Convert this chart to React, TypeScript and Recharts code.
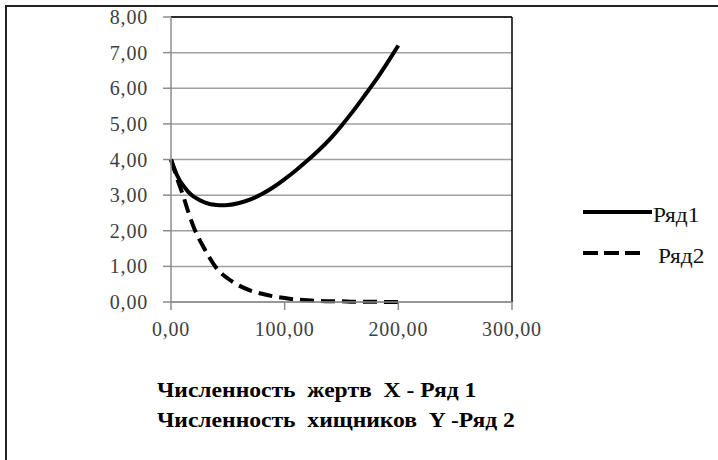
import React from 'react';
import { LineChart, Line, XAxis, YAxis, CartesianGrid, ReferenceLine } from 'recharts';

// time points
const tValues = [0, 5, 10, 15, 20, 30, 40, 50, 60, 70, 80, 90, 100, 110, 120, 130, 140, 150, 160, 170, 180, 190, 200];
// Ряд1 - численность жертв X
const prey = [4.0, 3.58, 3.3, 3.1, 2.96, 2.79, 2.72, 2.72, 2.78, 2.88, 3.03, 3.22, 3.45, 3.7, 3.97, 4.26, 4.58, 4.95, 5.35, 5.78, 6.22, 6.7, 7.2];
// Ряд2 - численность хищников Y
const predators = [4.0, 3.5, 3.05, 2.55, 2.1, 1.46, 0.95, 0.66, 0.46, 0.32, 0.23, 0.16, 0.11, 0.07, 0.05, 0.03, 0.02, 0.02, 0.01, 0.01, 0.01, 0.0, 0.0];

const xTicks = [0, 100, 200, 300];
const yTicks = [0, 1, 2, 3, 4, 5, 6, 7, 8];
const seriesNames = ['Ряд1', 'Ряд2'];
const captions = ['Численность  жертв  X - Ряд 1', 'Численность  хищников  Y -Ряд 2'];

const data = tValues.map((t, i) => ({ t, r1: prey[i], r2: predators[i] }));

const fmt = (v: number) => v.toFixed(2).replace('.', ',');
const font = '"Liberation Serif", "DejaVu Serif", serif';

export default function App() {
  return (
    <div style={{ position: 'fixed', left: 0, top: 0, width: 718, height: 460, background: '#fff', overflow: 'hidden', fontFamily: font }}>
      <div style={{ position: 'absolute', left: 5, top: 5, width: 740, height: 480, border: '2px solid #222', boxSizing: 'border-box' }} />
      <div style={{ position: 'absolute', left: 0, top: 0 }}>
        <LineChart width={718} height={460} data={data} margin={{ top: 17, right: 206, bottom: 128, left: 0 }}>
          <CartesianGrid vertical={false} stroke="#a0a0a0" strokeWidth={1.5} />
          <XAxis dataKey="t" type="number" domain={[0, 300]} ticks={xTicks} tickFormatter={fmt} interval={0}
            stroke="#8c8c8c" strokeWidth={1.5} tickSize={8} tickMargin={12} height={30}
            tick={{ fill: '#404040', fontSize: 20, fontFamily: font, letterSpacing: 0.8 }} />
          <YAxis type="number" domain={[0, 8]} ticks={yTicks} tickFormatter={fmt} width={171} interval={0}
            stroke="#8c8c8c" strokeWidth={1.5} tickSize={8} tickMargin={15}
            tick={{ fill: '#404040', fontSize: 20, fontFamily: font, letterSpacing: 0.8 }} />
          <ReferenceLine y={8} stroke="#000" strokeWidth={1.5} />
          <ReferenceLine x={300} stroke="#000" strokeWidth={1.5} />
          <Line dataKey="r1" name={seriesNames[0]} type="natural" stroke="#000" strokeWidth={4}
            dot={false} isAnimationActive={false} />
          <Line dataKey="r2" name={seriesNames[1]} type="monotone" stroke="#000" strokeWidth={4}
            strokeDasharray="14 7" dot={false} isAnimationActive={false} />
        </LineChart>
      </div>
      <svg width={718} height={460} style={{ position: 'absolute', left: 0, top: 0, pointerEvents: 'none' }}>
        <line x1={583} y1={212} x2={652} y2={212} stroke="#000" strokeWidth={4} />
        <text transform="translate(653,221.5) scale(1.17,1)" fontSize={20} fill="#111" fontFamily={font}>{seriesNames[0]}</text>
        <line x1={583} y1={253} x2={640} y2={253} stroke="#000" strokeWidth={4} strokeDasharray="15 6" />
        <text transform="translate(658,262.5) scale(1.17,1)" fontSize={20} fill="#111" fontFamily={font}>{seriesNames[1]}</text>
        {captions.map((c, i) => (
          <text key={c} transform={`translate(157,${396.7 + i * 30.3}) scale(1.18,1)`} fontSize={20}
            fontWeight="bold" fill="#000" fontFamily={font} style={{ whiteSpace: 'pre' }}>{c}</text>
        ))}
      </svg>
    </div>
  );
}
